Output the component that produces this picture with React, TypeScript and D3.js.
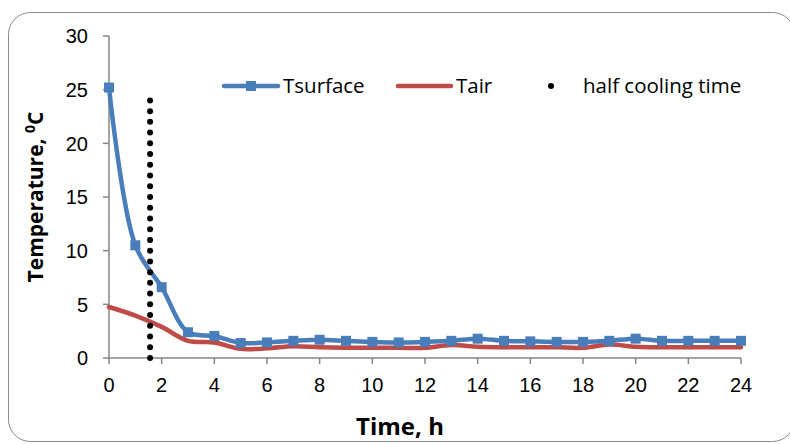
import React from "react";
import * as d3 from "d3";

const hours = [0,1,2,3,4,5,6,7,8,9,10,11,12,13,14,15,16,17,18,19,20,21,22,23,24];
const tSurface = [25.2,10.5,6.6,2.4,2.05,1.4,1.45,1.6,1.7,1.6,1.5,1.45,1.5,1.6,1.8,1.6,1.55,1.5,1.5,1.6,1.8,1.6,1.6,1.6,1.6];
const tAir = [4.75,3.95,2.9,1.6,1.45,0.85,0.9,1.1,1.0,0.95,0.95,0.95,0.95,1.2,1.05,1.0,1.0,1.0,0.95,1.25,1.05,1.0,1.0,1.0,1.0];
const halfCoolingTime = 1.56;
const halfCoolingLevels = [0,1,2,3,4,5,6,7,8,9,10,11,12,13,14,15,16,17,18,19,20,21,22,23,24];
const xTicks = [0,2,4,6,8,10,12,14,16,18,20,22,24];
const yTicks = [0,5,10,15,20,25,30];

const BLUE = "#4A7EBB";
const RED = "#BE4B48";
const AXIS = "#868686";
const FONT = "'Liberation Sans', Arial, sans-serif";
const FONT2 = "'Open Sans', Lato, sans-serif";

export default function App() {
  const W = 790, H = 444;
  const x = d3.scaleLinear().domain([0, 24]).range([109, 741]);
  const y = d3.scaleLinear().domain([0, 30]).range([358, 36]);
  const line = d3.line<number>().x((_, i) => x(hours[i])).y(d => y(d)).curve(d3.curveCatmullRom.alpha(0.5));

  return (
    <svg width={W} height={H} style={{ position: "absolute", left: 0, top: 0 }}>
      <rect x={0} y={0} width={W} height={H} fill="#fff" />
      <rect x={8.5} y={12.5} width={786} height={429} rx={22} ry={22} fill="#fff" stroke="#8a8a8a" strokeWidth={1} />
      {/* axes */}
      <line x1={x(0)} x2={x(0)} y1={y(30)} y2={y(0)} stroke={AXIS} strokeWidth={1.5} />
      <line x1={x(0)} x2={x(24)} y1={y(0)} y2={y(0)} stroke={AXIS} strokeWidth={1.5} />
      {yTicks.map(t => (
        <g key={"y" + t}>
          <line x1={x(0) - 6} x2={x(0)} y1={y(t)} y2={y(t)} stroke={AXIS} strokeWidth={1.5} />
          <text x={x(0) - 21} y={y(t)} dy="0.36em" textAnchor="end" fontFamily={FONT} fontSize={20} fill="#000">{t}</text>
        </g>
      ))}
      {xTicks.map(t => (
        <g key={"x" + t}>
          <line x1={x(t)} x2={x(t)} y1={y(0)} y2={y(0) + 6} stroke={AXIS} strokeWidth={1.5} />
          <text x={x(t)} y={y(0) + 34} textAnchor="middle" fontFamily={FONT} fontSize={20} fill="#000">{t}</text>
        </g>
      ))}
      {/* series */}
      <path d={line(tAir) || ""} fill="none" stroke={RED} strokeWidth={4.5} strokeLinejoin="round" strokeLinecap="round" />
      <path d={line(tSurface) || ""} fill="none" stroke={BLUE} strokeWidth={4.5} strokeLinejoin="round" strokeLinecap="round" />
      {tSurface.map((v, i) => (
        <rect key={"m" + i} x={x(hours[i]) - 5} y={y(v) - 5} width={10} height={10} fill={BLUE} />
      ))}
      {halfCoolingLevels.map(v => (
        <circle key={"h" + v} cx={x(halfCoolingTime)} cy={y(v)} r={3} fill="#000" />
      ))}
      {/* legend */}
      <line x1={224} x2={278} y1={86} y2={86} stroke={BLUE} strokeWidth={4.5} strokeLinecap="round" />
      <rect x={246} y={81} width={10} height={10} fill={BLUE} />
      <text x={283} y={86} dy="0.35em" fontFamily={FONT2} fontSize={20.5} fill="#000">Tsurface</text>
      <line x1={398} x2={451} y1={86} y2={86} stroke={RED} strokeWidth={4.5} strokeLinecap="round" />
      <text x={456} y={86} dy="0.35em" fontFamily={FONT2} fontSize={20.5} fill="#000">Tair</text>
      <circle cx={551} cy={86} r={3} fill="#000" />
      <text x={583} y={86} dy="0.35em" fontFamily={FONT2} fontSize={20.5} fill="#000">half cooling time</text>
      {/* titles */}
      <text transform={`translate(43,197) rotate(-90)`} textAnchor="middle" fontFamily={FONT2} fontWeight="bold" fontSize={21} fill="#000">
        Temperature, <tspan fontSize={14} dy={-8}>0</tspan><tspan dy={8}>C</tspan>
      </text>
      <text x={400} y={435} textAnchor="middle" fontFamily={FONT2} fontWeight="bold" fontSize={24} fill="#000">Time, h</text>
    </svg>
  );
}
